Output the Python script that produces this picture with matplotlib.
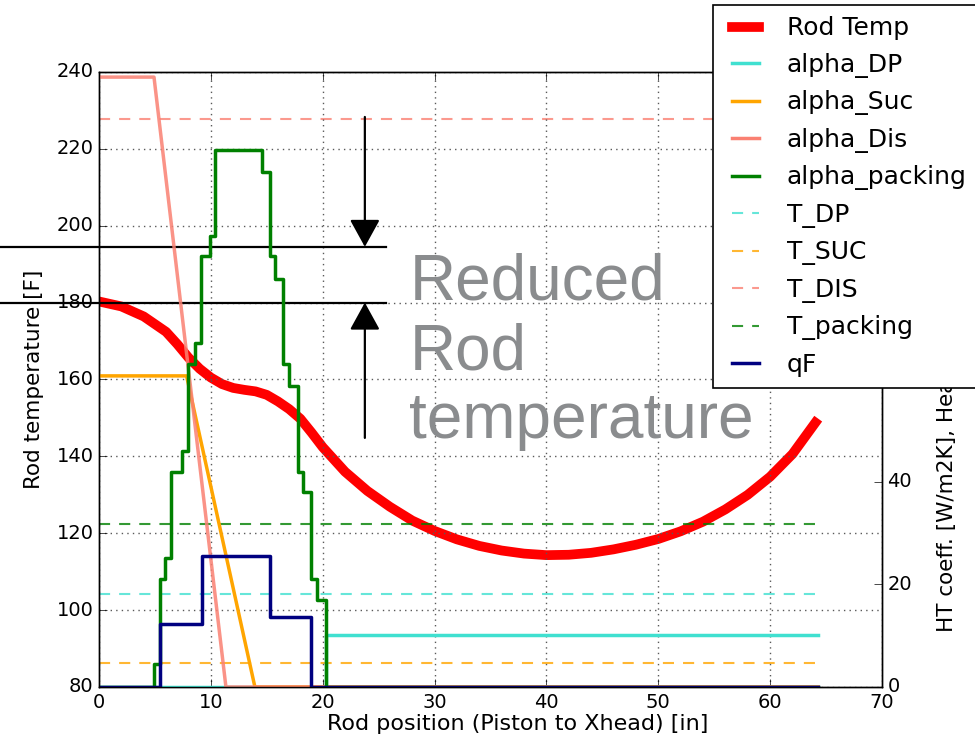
import matplotlib
matplotlib.use("Agg")
import matplotlib.pyplot as plt
from matplotlib.lines import Line2D

plt.style.use("classic")
plt.rcParams["font.family"] = ["DejaVu Sans"]

# Rod temperature along the rod [F]
rod_x = [0, 2, 4, 6, 7, 8, 9, 10, 11, 12, 13, 14, 15, 16, 17, 18, 19, 20,
         22, 24, 26, 28, 30, 32, 34, 36, 38, 40, 42, 44, 46, 48, 50, 52, 54,
         56, 58, 60, 62, 63, 64.3]
rod_temp = [180.3, 179.0, 176.4, 172.4, 169.2, 165.7, 162.8, 160.5, 158.8,
            157.8, 157.3, 156.9, 156.0, 154.3, 152.3, 149.8, 146.2, 142.4,
            136.0, 131.0, 126.9, 123.3, 120.6, 118.4, 116.7, 115.5, 114.7,
            114.3, 114.4, 114.9, 115.8, 117.0, 118.5, 120.5, 123.0, 126.2,
            130.0, 134.7, 140.6, 144.6, 149.8]

# Heat transfer coefficients [W/m2K] (step-wise along the rod)
alpha_dp_x = [0, 20.26, 64.3]
alpha_dp = [0, 10.1, 10.1]

alpha_suc_x = [0, 7.83, 13.94, 64.3]
alpha_suc = [60.7, 60.7, 0, 0]

alpha_dis_x = [0, 4.92, 11.35, 64.3]
alpha_dis = [119.0, 119.0, 0, 0]

packing_x = [0, 4.9, 5.45, 5.9, 6.43, 7.39, 7.98, 8.58, 9.12, 9.92, 10.37,
             14.6, 15.28, 15.73, 16.47, 17.0, 17.81, 18.2, 19.0, 19.5, 20.26,
             64.3]
packing = [0, 4.4, 21.1, 25.2, 42.0, 46.1, 63.0, 67.1, 84.0, 87.9, 104.8,
           100.5, 84.0, 79.7, 63.0, 58.8, 42.0, 38.1, 21.1, 17.0, 0, 0]

# Heat flux
qf_x = [0, 5.45, 9.17, 15.28, 19.0, 64.3]
qf = [0, 12.3, 25.6, 13.6, 0, 0]

# Gas / packing temperatures [F]
t_dp = 104.1
t_suc = 86.2
t_dis = 227.7
t_packing = 122.3

# Temperature band highlighted by the arrows [F]
temp_before = 194.5
temp_after = 180.0

x_ticks = [0, 10, 20, 30, 40, 50, 60, 70]
temp_ticks = [80, 100, 120, 140, 160, 180, 200, 220, 240]
ht_ticks = [0, 20, 40, 60, 80, 100, 120]

fig = plt.figure(figsize=(9.75, 7.39), dpi=100, facecolor="white")
ax1 = fig.add_axes([0.1015, 0.0704, 0.8031, 0.8322])
ax1.set_facecolor("white")

x_end = rod_x[-1]
dash = (8, 6.5)

ax1.plot(rod_x, rod_temp, color="red", lw=7, solid_capstyle="butt", zorder=2)
t_lines = [(t_dp, "turquoise"), (t_suc, "orange"), (t_dis, "salmon"),
           (t_packing, "green")]
for val, col in t_lines:
    ax1.plot([0, x_end], [val, val], color=col, lw=1.5, ls="--",
             dashes=dash, alpha=0.8, zorder=2)

ax1.set_xlim(0, 70)
ax1.set_ylim(80, 240)
ax1.set_xticks(x_ticks)
ax1.set_yticks(temp_ticks)
ax1.tick_params(labelsize=14, direction="in", length=6, top=True)
ax1.grid(True, color="0.35", ls=":", lw=1.0)
ax1.set_xlabel("Rod position (Piston to Xhead) [in]", fontsize=16)
ax1.xaxis.set_label_coords(0.535, -0.061)
ax1.xaxis.label.set_va("center")
ax1.set_ylabel("Rod temperature [F]", fontsize=15.5, labelpad=9)

ax2 = ax1.twinx()
ax2.set_ylim(0, 120)
ax2.set_yticks(ht_ticks)
ax2.tick_params(labelsize=14, direction="in", length=6)
ht_series = [
    (alpha_dp_x, alpha_dp, "turquoise", "steps-post", 1.0),
    (alpha_suc_x, alpha_suc, "orange", "default", 1.0),
    (alpha_dis_x, alpha_dis, "salmon", "default", 0.85),
    (packing_x, packing, "green", "steps-post", 1.0),
    (qf_x, qf, "navy", "steps-post", 1.0),
]
for xs, ys, col, style, a in ht_series:
    ax2.plot(xs, ys, color=col, lw=2.5, drawstyle=style, alpha=a)
ax2.set_ylabel("HT coeff. [W/m2K], Heat flux [kW/m2]", fontsize=15.5,
               ha="left")
ax2.yaxis.set_label_coords(1.07, 0.0894)
ax2.set_xlim(0, 70)

# Annotation: reduction of the peak rod temperature
for val in (temp_before, temp_after):
    ax1.plot([-8.9, 25.7], [val, val], color="black", lw=1.6,
             clip_on=False, zorder=5)
arrow_x = 23.77
head = "-|>,head_length=1.0,head_width=0.55"
ax1.annotate("", xy=(arrow_x, temp_before), xytext=(arrow_x, 228.3),
             arrowprops=dict(arrowstyle=head, mutation_scale=17, lw=1.6,
                             color="black", shrinkA=0, shrinkB=0), zorder=5)
ax1.annotate("", xy=(arrow_x, temp_after), xytext=(arrow_x, 144.8),
             arrowprops=dict(arrowstyle=head, mutation_scale=17, lw=1.6,
                             color="black", shrinkA=0, shrinkB=0), zorder=5)
for txt, yb in (("Reduced", 180.7), ("Rod", 162.5), ("temperature", 144.8)):
    ax1.text(27.75, yb, txt, fontsize=46, color="#8a8c8e",
             family=["Liberation Sans"], va="baseline", ha="left", zorder=6)

handles = [
    Line2D([], [], color="red", lw=7),
    Line2D([], [], color="turquoise", lw=2.5),
    Line2D([], [], color="orange", lw=2.5),
    Line2D([], [], color="salmon", lw=2.5),
    Line2D([], [], color="green", lw=2.5),
    Line2D([], [], color="turquoise", lw=1.5, ls="--", dashes=dash, alpha=0.8),
    Line2D([], [], color="orange", lw=1.5, ls="--", dashes=dash, alpha=0.8),
    Line2D([], [], color="salmon", lw=1.5, ls="--", dashes=dash, alpha=0.8),
    Line2D([], [], color="green", lw=1.5, ls="--", dashes=dash, alpha=0.8),
    Line2D([], [], color="navy", lw=2.5),
]
labels = ["Rod Temp", "alpha_DP", "alpha_Suc", "alpha_Dis", "alpha_packing",
          "T_DP", "T_SUC", "T_DIS", "T_packing", "qF"]
leg = fig.legend(handles, labels, loc="upper left",
                 bbox_to_anchor=(713 / 975, 1 - 5 / 739), borderaxespad=0,
                 fontsize=18, handlelength=1.7, handletextpad=0.8,
                 labelspacing=0.5, borderpad=0.45, fancybox=False)
leg.get_frame().set_edgecolor("black")
leg.get_frame().set_linewidth(1.2)

fig.savefig("out.png", dpi=100, facecolor="white")
